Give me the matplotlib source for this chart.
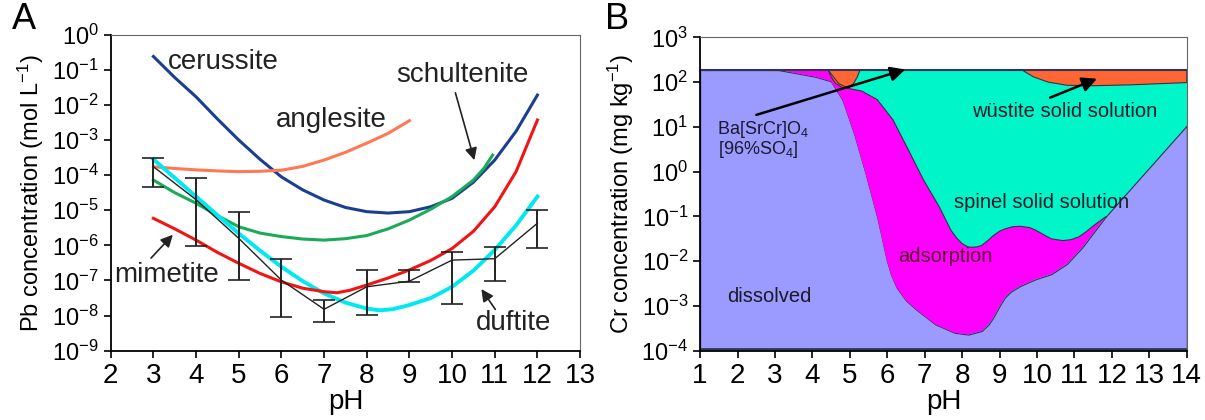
import numpy as np
import matplotlib
matplotlib.use('Agg')
import matplotlib.pyplot as plt

plt.rcParams['font.family'] = ['Liberation Sans Narrow', 'Liberation Sans', 'DejaVu Sans']
plt.rcParams['mathtext.default'] = 'regular'

# ---- panel A data (pH, log10 Pb mol/L) ----
ph_cer = [3, 3.5, 4, 4.5, 5, 5.5, 6, 6.5, 7, 7.5, 8, 8.5, 9, 9.5, 10, 10.5, 11, 11.5, 12]
cer = [-0.62, -1.22, -1.77, -2.4, -3.0, -3.55, -4.05, -4.42, -4.71, -4.92, -5.04, -5.08,
       -5.04, -4.9, -4.66, -4.2, -3.57, -2.75, -1.72]

ph_ang = [3, 3.5, 4, 4.5, 5, 5.5, 6, 6.5, 7, 7.5, 8, 8.5, 9]
ang = [-3.76, -3.81, -3.85, -3.88, -3.9, -3.89, -3.86, -3.75, -3.57, -3.35, -3.09, -2.81, -2.45]

ph_sch = [3, 3.5, 4, 4.5, 5, 5.5, 6, 6.5, 7, 7.5, 8, 8.5, 9, 9.5, 10, 10.5, 10.75, 10.95]
sch = [-4.14, -4.5, -4.8, -5.15, -5.47, -5.65, -5.75, -5.82, -5.85, -5.81, -5.72, -5.53,
       -5.28, -4.97, -4.61, -4.14, -3.8, -3.43]

ph_mim = [3, 3.5, 4, 4.5, 5, 5.5, 6, 6.5, 7, 7.3, 7.6, 8, 8.5, 9, 9.5, 10, 10.5, 11, 11.5, 12]
mim = [-5.23, -5.53, -5.85, -6.2, -6.51, -6.8, -7.04, -7.22, -7.32, -7.35, -7.28, -7.13,
       -6.93, -6.7, -6.43, -6.09, -5.6, -4.9, -3.9, -2.43]

ph_duf = [3, 3.5, 4, 4.5, 5, 5.5, 6, 6.5, 7, 7.5, 8, 8.3, 8.6, 9, 9.5, 10, 10.5, 11, 11.5, 12]
duf = [-3.55, -4.08, -4.61, -5.14, -5.66, -6.15, -6.61, -7.02, -7.37, -7.63, -7.8, -7.85,
       -7.82, -7.7, -7.5, -7.18, -6.72, -6.13, -5.43, -4.61]

ph_meas = [3, 4, 5, 6, 7, 8, 9, 10, 11, 12]
meas = [-3.76, -4.7, -5.8, -6.99, -7.82, -7.18, -7.02, -6.42, -6.38, -5.37]
meas_hi = [-3.52, -4.09, -5.04, -6.38, -7.56, -6.7, -6.7, -6.19, -6.04, -4.99]
meas_lo = [-4.35, -6.02, -6.99, -8.03, -8.18, -7.99, -7.05, -7.67, -7.01, -6.07]

# ---- panel B data (pH, log10 Cr mg/kg) ----
top_cr = 190
ph_dis = [1, 3.1, 4.08, 4.49, 4.8, 5.11, 5.42, 5.73, 5.99, 6.1, 6.25, 6.5, 6.77, 7.28, 7.8, 8.16,
          8.52, 8.7, 8.83, 9.0, 9.14, 9.3, 9.56, 9.97, 10.38, 10.8, 11.21, 11.62, 11.83, 14]
dis_log = [2.27, 2.27, 2.12, 2.02, 1.61, 0.86, -0.04, -1.01, -1.99, -2.3, -2.59, -2.88, -3.08,
           -3.41, -3.6, -3.64, -3.56, -3.42, -3.26, -3.0, -2.81, -2.68, -2.55, -2.4, -2.29,
           -2.06, -1.69, -1.24, -1.01, 1.03]

ph_ads = [3.1, 4.42, 4.7, 4.96, 5.32, 5.73, 6.15, 6.56, 6.97, 7.39, 7.7, 7.85, 8.0, 8.15, 8.26,
          8.4, 8.52, 8.7, 8.83, 9.0, 9.14, 9.35, 9.56, 9.8, 9.97, 10.2, 10.38, 10.69, 10.9,
          11.11, 11.3, 11.52, 11.83]
ads_log = [2.27, 2.27, 1.97, 1.86, 1.8, 1.61, 1.16, 0.49, -0.19, -0.79, -1.31, -1.48, -1.61,
           -1.68, -1.69, -1.68, -1.65, -1.53, -1.43, -1.33, -1.28, -1.23, -1.22, -1.25, -1.31,
           -1.42, -1.5, -1.54, -1.52, -1.46, -1.35, -1.2, -1.01]

ph_ba = [4.42, 4.5, 4.62, 4.8, 4.95, 5.1, 5.2, 5.27]
ba_log = [2.27, 2.12, 1.97, 1.88, 1.86, 1.97, 2.12, 2.27]

ph_wus = [9.6, 9.9, 10.3, 10.8, 11.5, 12.5, 14, 14]
wus_log = [2.27, 2.12, 2.0, 1.93, 1.92, 1.94, 1.99, 2.27]

fig = plt.figure(figsize=(12.05, 4.2), dpi=100)
axA = fig.add_axes([0.0919, 0.165, 0.3895, 0.7524])
axB = fig.add_axes([0.581, 0.165, 0.4039, 0.746])

# ---------------- panel A ----------------
p = lambda v: 10.0 ** np.asarray(v)
axA.plot(ph_cer, p(cer), color='#1b3f8f', lw=2.2)
axA.plot(ph_ang, p(ang), color='#ff7755', lw=2.2)
axA.plot(ph_sch, p(sch), color='#1aab58', lw=2.2)
axA.plot(ph_duf, p(duf), color='#00e8f0', lw=2.8)
axA.plot(ph_mim, p(mim), color='#f21414', lw=2.2)
m = p(meas)
axA.errorbar(ph_meas, m, yerr=[m - p(meas_lo), p(meas_hi) - m], color='#222222', lw=1.0,
             elinewidth=1.4, ecolor='#222222', capsize=8, capthick=1.2)

axA.set_yscale('log')
axA.set_xlim(2, 13)
axA.set_ylim(1e-9, 1)
axA.set_xticks(range(2, 14))
axA.set_yticks([10.0 ** k for k in range(-9, 1)])
axA.minorticks_off()
axA.tick_params(axis='x', labelsize=20, length=5, width=1.2)
axA.tick_params(axis='y', labelsize=17, length=5, width=1.2)
axA.set_xlabel('pH', fontsize=20, labelpad=0)
axA.set_ylabel('Pb concentration (mol L$^{-1}$)', fontsize=17)
for s in ['top', 'right']:
    axA.spines[s].set_color('#666666')
for s in ['left', 'bottom']:
    axA.spines[s].set_linewidth(1.3)

tk = dict(fontsize=20, color='#222222')
axA.text(3.35, p(-0.77), 'cerussite', va='center', ha='left', **tk)
axA.text(5.87, p(-2.43), 'anglesite', va='center', ha='left', **tk)
axA.text(8.68, p(-1.15), 'schultenite', va='center', ha='left', **tk)
axA.text(2.09, p(-6.85), 'mimetite', va='center', ha='left', **tk)
axA.text(10.56, p(-8.22), 'duftite', va='center', ha='left', **tk)
ap = dict(arrowstyle='-|>', color='#222222', lw=1.2, mutation_scale=18)
axA.annotate('', xy=(10.54, p(-3.65)), xytext=(10.06, p(-1.58)), arrowprops=ap)
axA.annotate('', xy=(3.5, p(-5.64)), xytext=(2.9, p(-6.42)), arrowprops=ap)
axA.annotate('', xy=(10.65, p(-7.18)), xytext=(11.05, p(-7.89)), arrowprops=ap)

# ---------------- panel B ----------------
ec = '#333344'
axB.fill_between([1, 14], 1e-4, top_cr, color='#00f5c8', lw=0)
axB.fill_between(ph_dis, 1.1e-4, p(dis_log), color='#9a9aff', edgecolor=ec, lw=0.8)
axB.fill(np.r_[ph_ads, ph_dis[1:-1][::-1]], np.r_[p(ads_log), p(dis_log[1:-1])[::-1]],
         color='#ff00ff', lw=0)
axB.plot(ph_ads[1:], p(ads_log[1:]), color=ec, lw=0.8)
axB.fill(ph_ba, p(ba_log), facecolor='#ff6633', edgecolor=ec, lw=0.8)
axB.fill(ph_wus, p(wus_log), facecolor='#ff6633', edgecolor=ec, lw=0.8)
axB.plot([1, 14], [top_cr, top_cr], color='#333355', lw=1.5)
axB.plot([1, 14], [1.1e-4, 1.1e-4], color='#333355', lw=1.2)

axB.set_yscale('log')
axB.set_xlim(1, 14)
axB.set_ylim(1e-4, 1e3)
axB.set_xticks(range(1, 15))
axB.set_yticks([10.0 ** k for k in range(-4, 4)])
axB.minorticks_off()
axB.tick_params(axis='x', labelsize=20, length=5, width=1.2)
axB.tick_params(axis='y', labelsize=17, length=5, width=1.2)
axB.set_xlabel('pH', fontsize=20, labelpad=0)
axB.set_ylabel('Cr concentration (mg kg$^{-1}$)', fontsize=17)
for s in ['top', 'right']:
    axB.spines[s].set_color('#666666')
for s in ['left', 'bottom']:
    axB.spines[s].set_linewidth(1.3)

tb = dict(fontsize=14.5, color='#1a1a2a')
axB.text(1.44, p(0.95), 'Ba[SrCr]O$_4$', va='center', ha='left', fontsize=13, color='#1a1a2a')
axB.text(1.47, p(0.5), '[96%SO$_4$]', va='center', ha='left', fontsize=13, color='#1a1a2a')
axB.text(8.26, p(1.35), 'wüstite solid solution', va='center', ha='left', **tb)
axB.text(7.78, p(-0.69), 'spinel solid solution', va='center', ha='left', **tb)
axB.text(6.3, p(-1.89), 'adsorption', va='center', ha='left', fontsize=14.5, color='#5a1030')
axB.text(1.73, p(-2.78), 'dissolved', va='center', ha='left', **tb)
apb = dict(arrowstyle='-|>', color='black', lw=1.8, mutation_scale=22)
axB.annotate('', xy=(6.55, p(2.3)), xytext=(2.43, p(1.25)), arrowprops=apb)
axB.annotate('', xy=(11.67, p(2.1)), xytext=(10.28, p(1.63)), arrowprops=apb)

fig.text(0.010, 0.93, 'A', fontsize=26)
fig.text(0.502, 0.93, 'B', fontsize=26)

fig.savefig('out.png', dpi=100)
